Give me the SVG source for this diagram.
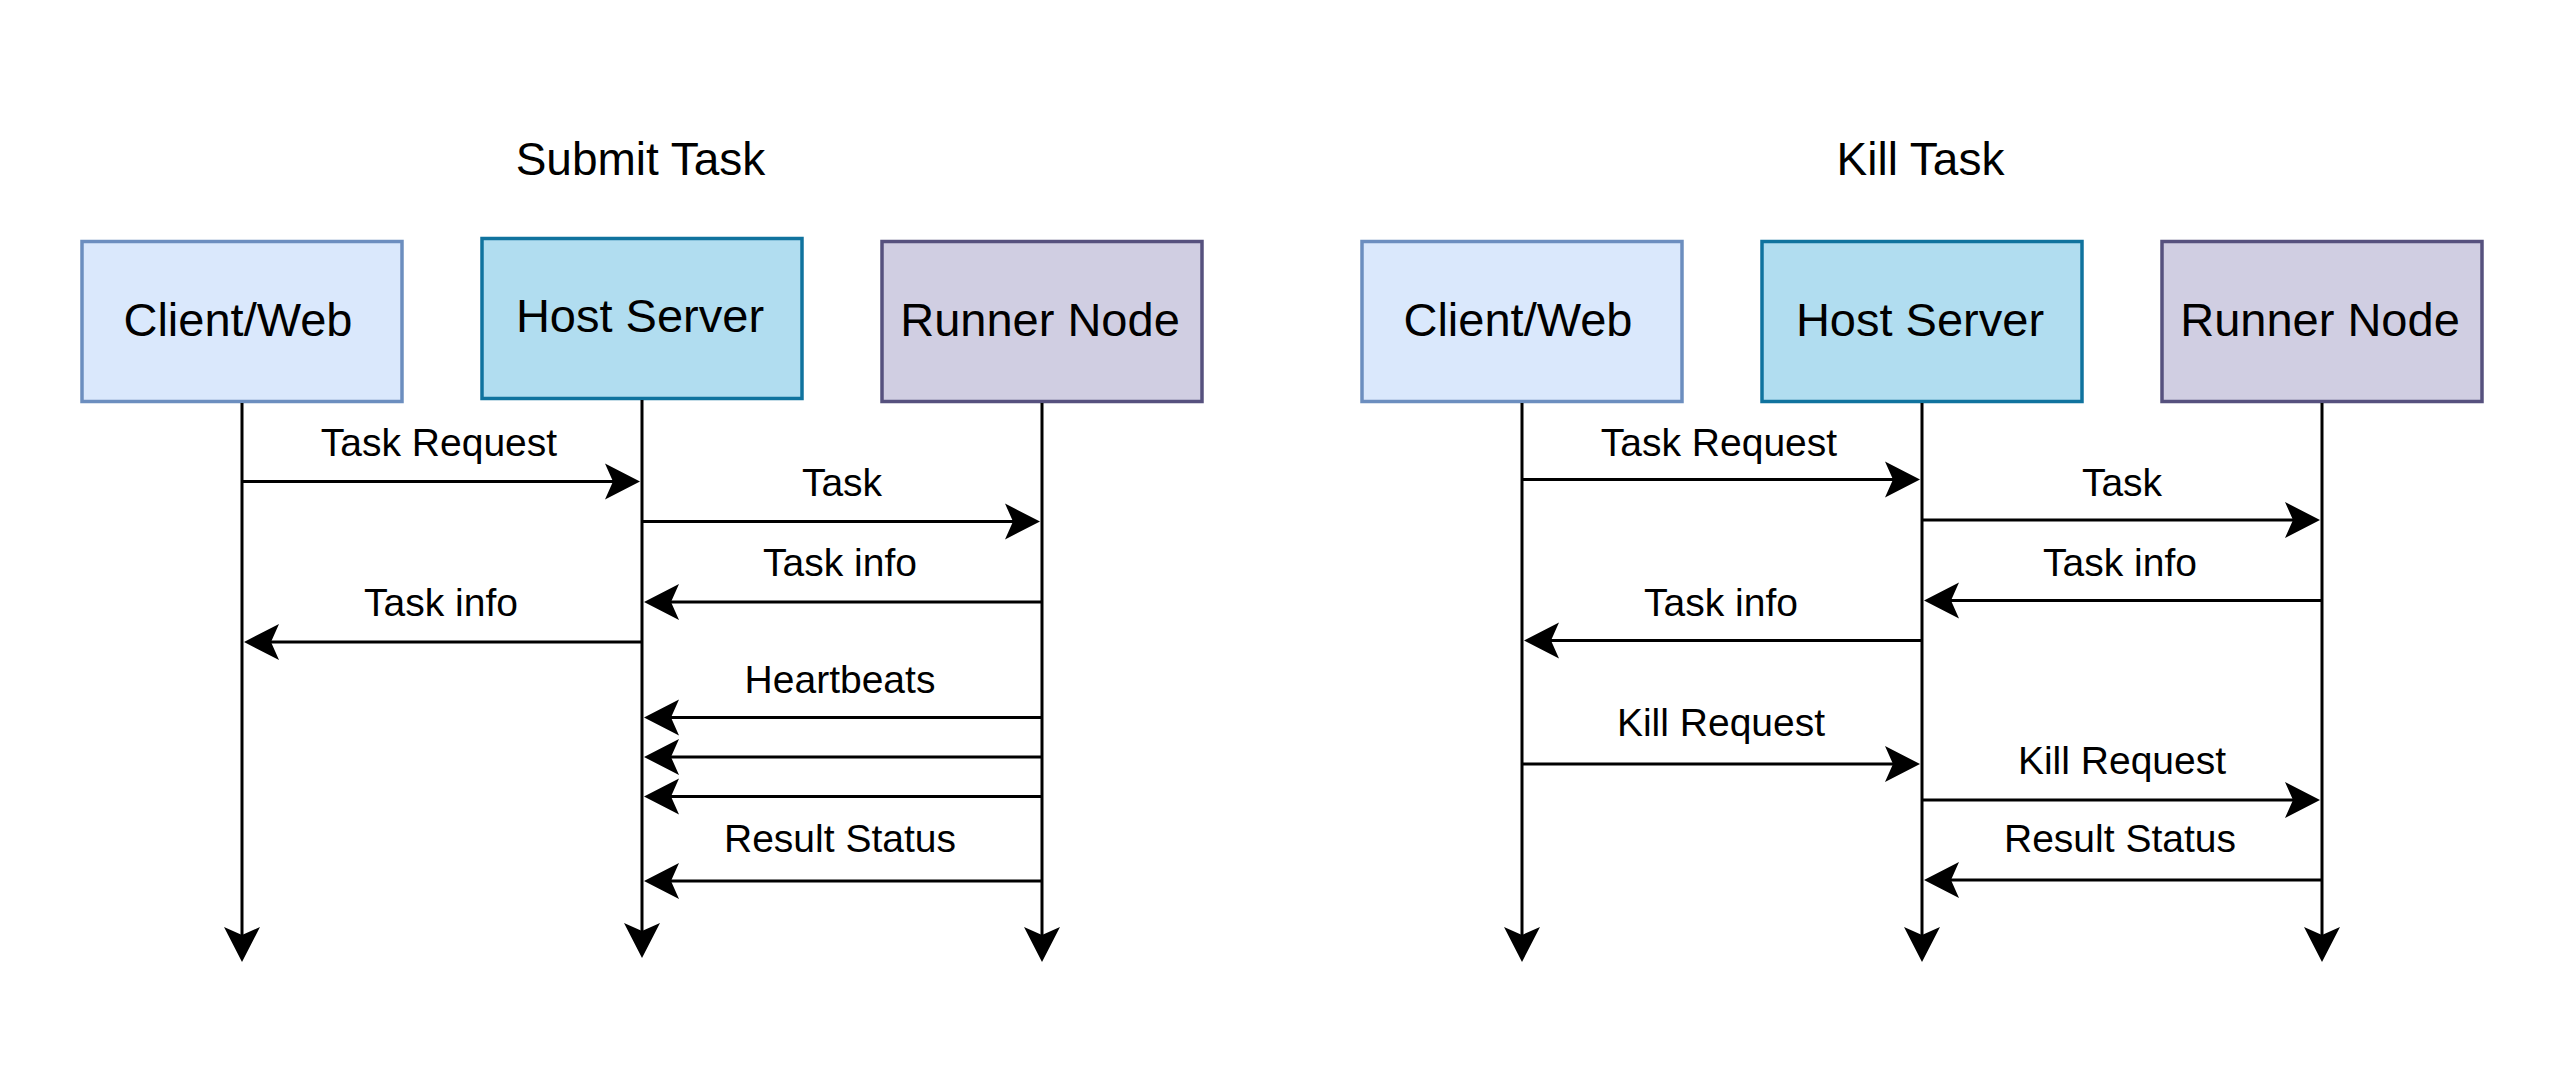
<svg xmlns="http://www.w3.org/2000/svg" width="2568" height="1076" viewBox="0 0 2568 1076">
<style>
text{font-family:"Liberation Sans",Arial,sans-serif;fill:#000;text-anchor:middle}
.title{font-size:46px}
.node{font-size:47px}
.lbl{font-size:39px}
.client{fill:#dae8fc;stroke:#6c8ebf;stroke-width:3.5}
.host{fill:#b1ddf0;stroke:#10739e;stroke-width:3.5}
.runner{fill:#d0cee2;stroke:#56517e;stroke-width:3.5}
.ln{stroke:#000;stroke-width:3;fill:none;marker-end:url(#arr)}
</style>
<defs>
<marker id="arr" markerUnits="userSpaceOnUse" markerWidth="40" markerHeight="40" viewBox="-37 -20 40 40" refX="-20" refY="0" orient="auto" overflow="visible">
<path d="M0,0 L-35,-18 L-27,0 L-35,18 Z" fill="#000"/>
</marker>
</defs>
<rect width="2568" height="1076" fill="#fff"/>
<text class="title" x="640.5" y="175">Submit Task</text>
<text class="title" x="1920.5" y="175">Kill Task</text>
<g id="submit-client"><rect class="client" x="82" y="241.5" width="320" height="160"/><text class="node" x="238" y="336">Client/Web</text></g>
<g id="submit-host"><rect class="host" x="482" y="238.5" width="320" height="160"/><text class="node" x="640" y="332">Host Server</text></g>
<g id="submit-runner"><rect class="runner" x="882" y="241.5" width="320" height="160"/><text class="node" x="1040" y="336">Runner Node</text></g>
<g id="kill-client"><rect class="client" x="1362" y="241.5" width="320" height="160"/><text class="node" x="1518" y="336">Client/Web</text></g>
<g id="kill-host"><rect class="host" x="1762" y="241.5" width="320" height="160"/><text class="node" x="1920" y="336">Host Server</text></g>
<g id="kill-runner"><rect class="runner" x="2162" y="241.5" width="320" height="160"/><text class="node" x="2320" y="336">Runner Node</text></g>
<g id="connectors">
<path class="ln" d="M242,403 V942"/>
<path class="ln" d="M642,400 V938"/>
<path class="ln" d="M1042,403 V942"/>
<path class="ln" d="M1522,403 V942"/>
<path class="ln" d="M1922,403 V942"/>
<path class="ln" d="M2322,403 V942"/>
<path class="ln" d="M242,481.5 H620"/>
<path class="ln" d="M642,521.5 H1020"/>
<path class="ln" d="M1042,602 H664"/>
<path class="ln" d="M642,642 H264"/>
<path class="ln" d="M1042,717.5 H664"/>
<path class="ln" d="M1042,757 H664"/>
<path class="ln" d="M1042,796.5 H664"/>
<path class="ln" d="M1042,881 H664"/>
<path class="ln" d="M1522,479.5 H1900"/>
<path class="ln" d="M1922,520 H2300"/>
<path class="ln" d="M2322,600.5 H1944"/>
<path class="ln" d="M1922,640.5 H1544"/>
<path class="ln" d="M1522,764 H1900"/>
<path class="ln" d="M1922,800 H2300"/>
<path class="ln" d="M2322,880 H1944"/>
<text class="lbl" x="439" y="455.5">Task Request</text>
<text class="lbl" x="842" y="495.5">Task</text>
<text class="lbl" x="840" y="576">Task info</text>
<text class="lbl" x="441" y="615.5">Task info</text>
<text class="lbl" x="840" y="692.5">Heartbeats</text>
<text class="lbl" x="840" y="852">Result Status</text>
<text class="lbl" x="1719" y="455.5">Task Request</text>
<text class="lbl" x="2122" y="495.5">Task</text>
<text class="lbl" x="2120" y="576">Task info</text>
<text class="lbl" x="1721" y="615.5">Task info</text>
<text class="lbl" x="1721" y="736">Kill Request</text>
<text class="lbl" x="2122" y="773.5">Kill Request</text>
<text class="lbl" x="2120" y="852">Result Status</text>
</g>
</svg>
